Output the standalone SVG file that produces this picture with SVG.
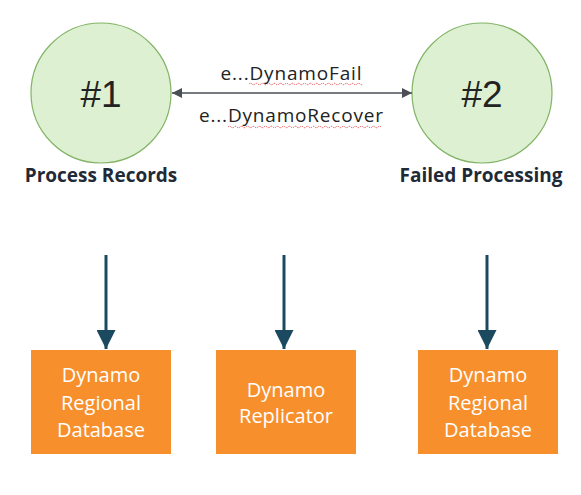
<svg xmlns="http://www.w3.org/2000/svg" width="581" height="495" viewBox="0 0 581 495">
<defs>
<style>
.circle{fill:#DDF1D2;stroke:#82B366;stroke-width:1.2}
.num{font-family:"Liberation Sans",Arial,sans-serif;font-size:37px;fill:#222;text-anchor:middle}
.cap{font-family:"Open Sans",Lato,sans-serif;font-weight:bold;font-size:19px;fill:#1f2a36;text-anchor:middle}
.lbl{font-family:"Open Sans",Lato,sans-serif;font-size:19px;fill:#222;text-anchor:middle}
.box{fill:#F7902C}
.btxt{font-family:"Open Sans",Lato,sans-serif;font-size:20px;fill:#fff;text-anchor:middle}
.dn{stroke:#1B4A60;stroke-width:3;fill:none}
.bi{stroke:#4a4f55;stroke-width:1.3;fill:none}
.sq{stroke:#e03030;stroke-width:0.8;fill:none;stroke-dasharray:1.5 1}
</style>
<marker id="ah" viewBox="0 0 10 10" refX="10" refY="5" markerWidth="10" markerHeight="10" markerUnits="userSpaceOnUse" orient="auto-start-reverse">
<path d="M0,0 L10,5 L0,10 z" fill="#4a4f55"/>
</marker>
<marker id="dh" viewBox="0 0 10 10" refX="10" refY="5" markerWidth="19" markerHeight="19" markerUnits="userSpaceOnUse" orient="auto">
<path d="M0,0 L10,5 L0,10 z" fill="#1B4A60"/>
</marker>
</defs>
<rect width="581" height="495" fill="#fff"/>
<g id="node1">
<circle class="circle" cx="101" cy="93" r="70"/>
<text class="num" x="101" y="107">#1</text>
<text class="cap" x="101" y="182">Process Records</text>
</g>
<g id="node2">
<circle class="circle" cx="482" cy="93" r="70"/>
<text class="num" x="482" y="107">#2</text>
<text class="cap" x="481" y="182">Failed Processing</text>
</g>
<g id="box1">
<rect class="box" x="31" y="350" width="140" height="104"/>
<text class="btxt" x="101" y="382">Dynamo</text>
<text class="btxt" x="101" y="410">Regional</text>
<text class="btxt" x="101" y="437">Database</text>
</g>
<g id="box2">
<rect class="box" x="216" y="350" width="140" height="104"/>
<text class="btxt" x="286" y="397">Dynamo</text>
<text class="btxt" x="286" y="423">Replicator</text>
</g>
<g id="box3">
<rect class="box" x="418" y="350" width="140" height="104"/>
<text class="btxt" x="488" y="382">Dynamo</text>
<text class="btxt" x="488" y="410">Regional</text>
<text class="btxt" x="488" y="437">Database</text>
</g>
<g id="connectors">
<line class="bi" x1="172" y1="93" x2="412" y2="93" marker-start="url(#ah)" marker-end="url(#ah)"/>
<line class="dn" x1="106" y1="255" x2="106" y2="349" marker-end="url(#dh)"/>
<line class="dn" x1="284" y1="255" x2="284" y2="349" marker-end="url(#dh)"/>
<line class="dn" x1="487" y1="255" x2="487" y2="349" marker-end="url(#dh)"/>
</g>
<g id="labels">
<text class="lbl" x="291" y="80" textLength="141" lengthAdjust="spacing">e...DynamoFail</text>
<text class="lbl" x="291" y="122" textLength="184" lengthAdjust="spacing">e...DynamoRecover</text>
<path class="sq" d="M249,84 q1.5,-1.5 3,0 t3,0 t3,0 t3,0 t3,0 t3,0 t3,0 t3,0 t3,0 t3,0 t3,0 t3,0 t3,0 t3,0 t3,0 t3,0 t3,0 t3,0 t3,0 t3,0 t3,0 t3,0 t3,0 t3,0 t3,0 t3,0 t3,0 t3,0 t3,0 t3,0 t3,0 t3,0 t3,0 t3,0 t3,0 t3,0 t3,0 t3,0"/>
<path class="sq" d="M228,127 q1.5,-1.5 3,0 t3,0 t3,0 t3,0 t3,0 t3,0 t3,0 t3,0 t3,0 t3,0 t3,0 t3,0 t3,0 t3,0 t3,0 t3,0 t3,0 t3,0 t3,0 t3,0 t3,0 t3,0 t3,0 t3,0 t3,0 t3,0 t3,0 t3,0 t3,0 t3,0 t3,0 t3,0 t3,0 t3,0 t3,0 t3,0 t3,0 t3,0 t3,0 t3,0 t3,0 t3,0 t3,0 t3,0 t3,0 t3,0 t3,0 t3,0 t3,0 t3,0 t3,0"/>
</g>
</svg>
